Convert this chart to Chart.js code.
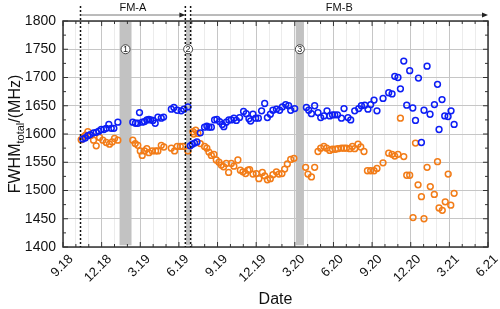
<!DOCTYPE html>
<html>
<head>
<meta charset="utf-8">
<script src="https://cdn.jsdelivr.net/npm/chart.js@4.4.1/dist/chart.umd.min.js"></script>
<style>
  html, body { margin: 0; padding: 0; background: #fff; }
  #wrap { width: 500px; height: 309px; }
</style>
</head>
<body>
<div id="wrap"><canvas id="fwhmChart"></canvas></div>
<script>
// x values are months counted from Sep 2018 (9.18 = 0)
const tickLabels = ['9.18', '12.18', '3.19', '6.19', '9.19', '12.19', '3.20', '6.20', '9.20', '12.20', '3.21', '6.21'];

const blueMonths = [1.54, 1.72, 1.93, 2.11, 2.37, 2.58, 2.78, 2.97, 3.17, 3.36, 3.56, 3.75, 3.95, 4.26,
  5.42, 5.63, 5.81, 5.94, 6.15, 6.33, 6.51, 6.67, 6.80, 6.98, 7.16, 7.37, 7.63, 7.81,
  8.41, 8.61, 8.87, 9.18, 9.39, 9.70,
  9.88, 10.04, 10.22, 10.40, 10.66, 10.99, 11.17, 11.33, 11.52, 11.77, 11.95, 12.16, 12.37, 12.49,
  12.68, 12.88, 13.07, 13.27, 13.46, 13.71, 14.02, 14.23, 14.44, 14.57, 14.75, 14.96, 15.17, 15.42,
  15.66, 15.87, 16.10, 16.30, 16.57, 16.82, 17.03, 17.29, 17.52, 17.68, 17.99,
  18.90, 19.08, 19.29, 19.54, 19.80, 20.01, 20.26, 20.50, 20.71, 20.92, 21.10, 21.31, 21.62, 21.82,
  22.13, 22.34, 22.65, 22.96, 23.17, 23.43, 23.68, 23.89, 24.15, 24.38, 24.85, 25.29, 25.55, 25.76,
  26.01, 26.20, 26.46, 26.69, 26.92, 27.16, 27.37, 27.60, 27.83, 28.03, 28.27, 28.50, 28.84, 29.08,
  29.20, 29.43, 29.64, 29.90, 30.13, 30.37];
const blueFwhm = [1591, 1593, 1597, 1599, 1602, 1603, 1605, 1608, 1608, 1610, 1617, 1610, 1610, 1621,
  1621, 1619, 1619, 1638, 1621, 1622, 1625, 1626, 1625, 1624, 1619, 1630, 1628, 1630,
  1644, 1647, 1642, 1641, 1644, 1648,
  1579, 1582, 1584, 1586, 1602, 1612, 1614, 1612, 1612, 1625, 1626, 1622, 1617, 1613,
  1621, 1625, 1625, 1628, 1624, 1629, 1640, 1636, 1627, 1623, 1635, 1628, 1628, 1641,
  1654, 1629, 1635, 1642, 1644, 1642, 1648, 1652, 1650, 1642, 1645,
  1647, 1642, 1636, 1650, 1638, 1629, 1632, 1641, 1632, 1634, 1634, 1634, 1628, 1645,
  1629, 1625, 1641, 1645, 1650, 1651, 1644, 1652, 1660, 1641, 1663, 1673, 1671, 1702,
  1700, 1680, 1729, 1651, 1712, 1646, 1624, 1699, 1585, 1642, 1720, 1635, 1652, 1688,
  1608, 1661, 1632, 1631, 1641, 1617];

const orangeMonths = [1.41, 1.59, 1.75, 1.93, 2.19, 2.37, 2.58, 2.84, 3.09, 3.36, 3.61, 3.82, 4.00, 4.26,
  5.42, 5.61, 5.81, 6.00, 6.15, 6.33, 6.51, 6.67, 6.93, 7.19, 7.37, 7.63, 7.83,
  8.41, 8.66, 8.87, 9.11, 9.31, 9.70,
  10.09, 10.14, 10.30, 10.47, 10.66, 10.99, 11.17, 11.33, 11.52, 11.72, 11.90, 12.11, 12.29, 12.47,
  12.68, 12.86, 13.07, 13.27, 13.58, 13.77, 13.97, 14.18, 14.36, 14.49, 14.75, 15.01, 15.21, 15.48,
  15.66, 15.87, 16.10, 16.30, 16.57, 16.77, 17.00, 17.21, 17.42, 17.68, 17.93,
  18.84, 19.02, 19.29, 19.54, 19.80, 20.01, 20.26, 20.47, 20.71, 20.92, 21.15, 21.35, 21.62, 21.82,
  22.00, 22.26, 22.47, 22.65, 22.91, 23.12, 23.37, 23.64, 23.89, 24.15, 24.38, 24.85, 25.29, 25.55,
  25.76, 26.01, 26.20, 26.46, 26.69, 26.92, 27.18, 27.37, 27.57, 27.83, 28.03, 28.27, 28.52, 28.83,
  29.08, 29.20, 29.45, 29.68, 29.91, 30.11, 30.37];
const orangeFwhm = [1590, 1595, 1598, 1604, 1598, 1589, 1579, 1594, 1589, 1585, 1582, 1586, 1592, 1589,
  1589, 1583, 1580, 1570, 1562, 1570, 1574, 1567, 1570, 1570, 1570, 1580, 1577,
  1575, 1570, 1578, 1578, 1578, 1570,
  1604, 1600, 1607, 1601, 1583, 1578, 1575, 1568, 1562, 1564, 1554, 1550, 1545, 1542,
  1548, 1532, 1548, 1543, 1554, 1536, 1533, 1530, 1536, 1537, 1529, 1530, 1521, 1532,
  1526, 1519, 1521, 1528, 1533, 1529, 1530, 1538, 1547, 1555, 1557,
  1541, 1529, 1524, 1541, 1569, 1575, 1578, 1575, 1571, 1573, 1573, 1574, 1575, 1575,
  1575, 1574, 1578, 1574, 1582, 1577, 1569, 1535, 1535, 1535, 1539, 1549, 1566, 1564,
  1561, 1564, 1628, 1560, 1527, 1527, 1452, 1584, 1510, 1489, 1450, 1541, 1507, 1493,
  1551, 1469, 1465, 1480, 1529, 1474, 1495];

// shaded periods (start, end in months) and their marks
const bandStarts = [4.39, 9.55, 18.07];
const bandEnds = [5.32, 9.88, 18.71];
const bandMarks = ['1', '2', '3'];
const phaseLines = [1.36, 9.50, 9.91];
const phaseNames = ['FM-A', 'FM-B'];

const toPoints = (xs, ys) => xs.map((v, i) => ({ x: v, y: ys[i] }));

const FONT = "'Liberation Sans', Arial, sans-serif";

const overlay = {
  id: 'overlay',
  beforeDatasetsDraw(chart) {
    const { ctx, scales: { x, y } } = chart;
    ctx.save();
    ctx.fillStyle = '#c2c2c2';
    bandStarts.forEach((s, i) => {
      const x0 = x.getPixelForValue(s), x1 = x.getPixelForValue(bandEnds[i]);
      const y0 = y.getPixelForValue(1800), y1 = y.getPixelForValue(1403);
      ctx.fillRect(x0, y0, x1 - x0, y1 - y0);
    });
    ctx.restore();
  },
  afterDatasetsDraw(chart) {
    const { ctx, chartArea: a, scales: { x, y } } = chart;
    ctx.save();

    // frame
    ctx.strokeStyle = '#333';
    ctx.lineWidth = 1.5;
    ctx.strokeRect(a.left, a.top, a.right - a.left, a.bottom - a.top);

    // inward ticks
    ctx.lineWidth = 1;
    for (let m = 0; m <= 33; m++) {
      const px = x.getPixelForValue(m);
      const len = m % 3 === 0 ? 5 : 3;
      ctx.beginPath();
      ctx.moveTo(px, a.bottom); ctx.lineTo(px, a.bottom - len);
      ctx.moveTo(px, a.top); ctx.lineTo(px, a.top + len);
      ctx.stroke();
    }
    for (let v = 1400; v <= 1800; v += 25) {
      const py = y.getPixelForValue(v);
      const len = v % 50 === 0 ? 5 : 3;
      ctx.beginPath();
      ctx.moveTo(a.left, py); ctx.lineTo(a.left + len, py);
      ctx.moveTo(a.right, py); ctx.lineTo(a.right - len, py);
      ctx.stroke();
    }

    // x tick labels, rotated
    ctx.fillStyle = '#111';
    ctx.font = '13px ' + FONT;
    ctx.textAlign = 'right';
    ctx.textBaseline = 'middle';
    tickLabels.forEach((t, i) => {
      const px = x.getPixelForValue(i * 3);
      ctx.save();
      ctx.translate(px + 8, a.bottom + 10);
      ctx.rotate(-Math.PI / 4);
      ctx.fillText(t, 0, 0);
      ctx.restore();
    });

    // phase boundaries
    ctx.strokeStyle = '#111';
    ctx.lineWidth = 1.5;
    ctx.setLineDash([2, 2]);
    phaseLines.forEach(m => {
      const px = x.getPixelForValue(m);
      ctx.beginPath();
      ctx.moveTo(px, 6); ctx.lineTo(px, a.bottom);
      ctx.stroke();
    });
    ctx.setLineDash([]);

    // phase arrows
    const arrows = [[phaseLines[0], phaseLines[1]], [phaseLines[2], 33]];
    ctx.font = '11px ' + FONT;
    ctx.textAlign = 'center';
    ctx.textBaseline = 'middle';
    arrows.forEach((r, i) => {
      const x0 = x.getPixelForValue(r[0]), x1 = x.getPixelForValue(r[1]);
      const ay = 15;
      ctx.strokeStyle = '#777';
      ctx.lineWidth = 1;
      ctx.beginPath();
      ctx.moveTo(x0, ay); ctx.lineTo(x1 - 2, ay);
      ctx.stroke();
      ctx.fillStyle = '#222';
      ctx.beginPath();
      ctx.moveTo(x1, ay); ctx.lineTo(x1 - 6, ay - 2.5); ctx.lineTo(x1 - 6, ay + 2.5);
      ctx.closePath();
      ctx.fill();
      ctx.fillStyle = '#111';
      ctx.fillText(phaseNames[i], (x0 + x1) / 2, 8);
    });

    // circled marks
    ctx.font = '9px ' + FONT;
    bandMarks.forEach((t, i) => {
      const cx = x.getPixelForValue((bandStarts[i] + bandEnds[i]) / 2);
      const cy = y.getPixelForValue(1750);
      ctx.beginPath();
      ctx.arc(cx, cy, 4.5, 0, Math.PI * 2);
      ctx.fillStyle = '#fff';
      ctx.fill();
      ctx.strokeStyle = '#333';
      ctx.lineWidth = 0.9;
      ctx.stroke();
      ctx.fillStyle = '#222';
      ctx.fillText(t, cx, cy + 0.5);
    });

    // axis titles
    ctx.fillStyle = '#111';
    ctx.font = '16px ' + FONT;
    ctx.textAlign = 'center';
    ctx.textBaseline = 'alphabetic';
    ctx.fillText('Date', (a.left + a.right) / 2, 304);

    ctx.save();
    ctx.translate(20, (a.top + a.bottom) / 2);
    ctx.rotate(-Math.PI / 2);
    const partA = 'FWHM', partB = 'total', partC = '/(MHz)';
    ctx.font = '16px ' + FONT;
    const wA = ctx.measureText(partA).width, wC = ctx.measureText(partC).width;
    ctx.font = '11px ' + FONT;
    const wB = ctx.measureText(partB).width;
    let sx = -(wA + wB + wC) / 2;
    ctx.textAlign = 'left';
    ctx.font = '16px ' + FONT;
    ctx.fillText(partA, sx, 0);
    ctx.font = '11px ' + FONT;
    ctx.fillText(partB, sx + wA, 4);
    ctx.font = '16px ' + FONT;
    ctx.fillText(partC, sx + wA + wB, 0);
    ctx.restore();

    ctx.restore();
  }
};

const ctx = document.getElementById('fwhmChart').getContext('2d');

const fwhmChart = new Chart(ctx, {
  type: 'scatter',
  data: {
    datasets: [{
      label: 'FWHM blue',
      data: toPoints(blueMonths, blueFwhm),
      borderColor: '#0d1ef5',
      backgroundColor: 'rgba(0,0,0,0)',
      pointRadius: 2.9,
      pointBorderWidth: 1.5,
    }, {
      label: 'FWHM orange',
      data: toPoints(orangeMonths, orangeFwhm),
      borderColor: '#f27c18',
      backgroundColor: 'rgba(0,0,0,0)',
      pointRadius: 2.9,
      pointBorderWidth: 1.5,
    }]
  },
  options: {
    responsive: true,
    maintainAspectRatio: false,
    animation: false,
    layout: { padding: { top: 21, right: 12, left: 0, bottom: 0 } },
    scales: {
      x: {
        type: 'linear',
        min: 0,
        max: 33,
        afterFit(scale) { scale.height = 62; },
        ticks: { display: false, stepSize: 1 },
        border: { display: false },
        grid: {
          drawTicks: false,
          color: c => c.tick && c.tick.value % 3 === 0 ? '#c6c6c6' : '#ececec',
          lineWidth: 1,
        }
      },
      y: {
        min: 1400,
        max: 1800,
        afterFit(scale) { scale.width = 63; },
        ticks: {
          stepSize: 25,
          padding: 7,
          color: '#111',
          font: { family: FONT, size: 14 },
          callback: v => v % 50 === 0 ? v : '',
        },
        border: { display: false },
        grid: {
          drawTicks: false,
          color: c => c.tick && c.tick.value % 50 === 0 ? '#c6c6c6' : '#ececec',
          lineWidth: 1,
        }
      }
    },
    plugins: {
      legend: { display: false },
      tooltip: { enabled: false },
    }
  },
  plugins: [overlay]
});
</script>
</body>
</html>
